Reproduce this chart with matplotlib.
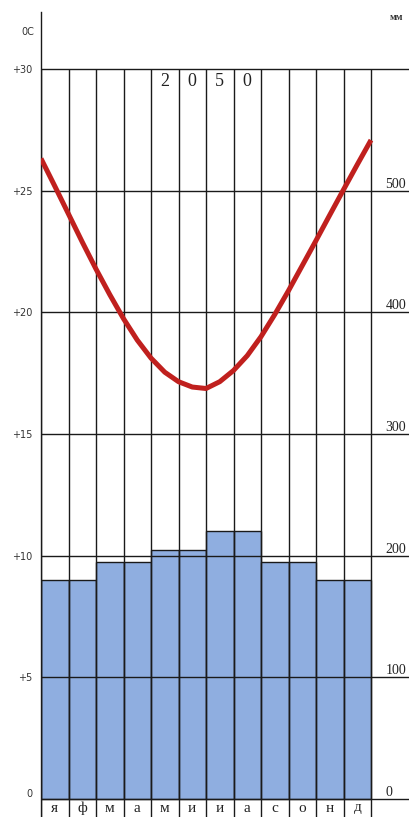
import matplotlib.pyplot as plt
import numpy as np

# Дані
months = ['я', 'ф', 'м', 'а', 'м', 'и', 'и', 'а', 'с', 'о', 'н', 'д']
precip_mm = [180, 180, 195, 195, 205, 205, 220, 220, 195, 195, 180, 180]
# температура, зчитана кожні пів місяця (межі та середини колонок)
temp_c = [26.32, 25.19, 24.04, 22.89, 21.78, 20.73, 19.74, 18.86, 18.12, 17.54,
          17.15, 16.93, 16.87, 17.15, 17.61, 18.22, 19.00, 19.91, 20.89, 21.92,
          22.95, 24.00, 25.04, 26.07, 27.08]
temp_ticks = [0, 5, 10, 15, 20, 25, 30]
temp_labels = ['0', '+5', '+10', '+15', '+20', '+25', '+30']
mm_ticks = [0, 100, 200, 300, 400, 500]
year = '2050'

W, H = 409, 817
fig = plt.figure(figsize=(W / 100, H / 100), dpi=100)
ax = fig.add_axes([41 / W, 0, (W - 41) / W, (H - 12) / H])
ax2 = ax.twinx()

px_per_deg = 730 / 30
ymin = -18 / px_per_deg
ymax = 30 + 57 / px_per_deg
ax.set_ylim(ymin, ymax)
ax2.set_ylim(ymin * 20, ymax * 20)
ax.set_xlim(0, (W - 41) / 27.5)

# шар з опадами під шаром температури
ax.set_zorder(ax2.get_zorder() + 1)
ax.patch.set_visible(False)

n = len(months)
centers = np.arange(n) + 0.5
ax2.bar(centers, precip_mm, width=1.0, color='#8faee0', edgecolor='#1a1a1a',
        linewidth=1.0)

line_col = '#1a1a1a'
for t in temp_ticks:
    ax.axhline(t, color=line_col, linewidth=1.0, zorder=2)
ax.vlines(np.arange(n + 1), ymin, 30, color=line_col, linewidth=1.0, zorder=2)

xs = np.linspace(0, n, len(temp_c))
ax.plot(xs, temp_c, color='#c0201e', linewidth=3.6, solid_capstyle='butt',
        solid_joinstyle='round', zorder=3)

# осі
for s in ['top', 'right', 'bottom']:
    ax.spines[s].set_visible(False)
    ax2.spines[s].set_visible(False)
ax2.spines['left'].set_visible(False)
ax.spines['left'].set_linewidth(1.0)
ax.spines['left'].set_color(line_col)

ax.set_xticks([])
ax.set_yticks(temp_ticks)
ax.set_yticklabels(temp_labels, family='DejaVu Sans', fontsize=7, color='#333333')
ax.tick_params(axis='y', length=0, pad=6)
ax.get_yticklabels()[0].set_va('bottom')

ax2.set_yticks(mm_ticks)
ax2.set_yticklabels([str(v) for v in mm_ticks], family='Liberation Serif',
                    fontsize=10, color='#222222')
ax2.tick_params(axis='y', length=0, direction='in', pad=-17)
for lab in ax2.get_yticklabels():
    lab.set_va('bottom')

# підписи місяців
for x, m in zip(centers, months):
    ax.text(x, ymin / 2, m, ha='center', va='center', fontsize=11,
            family='Liberation Serif', color='#222222')

# рік у колонках травень-серпень
for i, ch in enumerate(year):
    ax.text(centers[4 + i], 30 - 12 / px_per_deg, ch, ha='center', va='center',
            fontsize=13, family='Liberation Serif', color='#222222')

fig.text(28 / W, 1 - 32 / H, '0C', ha='center', va='center', fontsize=7,
         family='DejaVu Sans', color='#333333')
fig.text(396 / W, 1 - 18 / H, 'мм', ha='center', va='center', fontsize=7,
         family='Liberation Serif', fontweight='bold', color='#333333')

fig.savefig('out.png', dpi=100)
